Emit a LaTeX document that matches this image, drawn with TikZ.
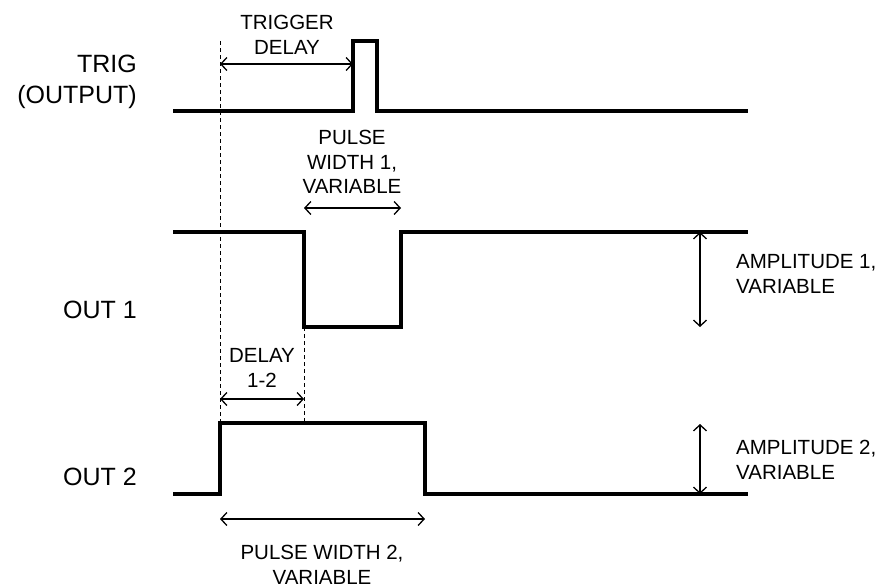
\documentclass[tikz,border=0pt]{standalone}
\usepackage{fontspec}
\setmainfont{Liberation Sans}
\usetikzlibrary{arrows.meta}
\begin{document}
\begin{tikzpicture}[x=1pt,y=-1pt,
  sig/.style={line width=3.3pt,line join=miter},
  dim/.style={line width=1.3pt,{Straight Barb[length=6pt,width=13pt,line width=1.3pt]}-{Straight Barb[length=6pt,width=13pt,line width=1.3pt]}},
  guide/.style={line width=0.9pt,dash pattern=on 4pt off 3pt},
  small/.style={inner sep=0pt,align=center,font=\fontsize{20.5}{24.8}\selectfont},
  big/.style={inner sep=0pt,align=right,font=\fontsize{25}{31}\selectfont}]
\useasboundingbox (0,0) rectangle (883,587);
% coordinates
\coordinate (t0) at (173,111); \coordinate (t1) at (353,111); \coordinate (t2) at (353,41);
\coordinate (t3) at (377,41); \coordinate (t4) at (377,111); \coordinate (t5) at (748,111);
\coordinate (a0) at (173,232); \coordinate (a1) at (304,232); \coordinate (a2) at (304,327);
\coordinate (a3) at (401,327); \coordinate (a4) at (401,232); \coordinate (a5) at (748,232);
\coordinate (b0) at (173,494); \coordinate (b1) at (220,494); \coordinate (b2) at (220,423);
\coordinate (b3) at (425,423); \coordinate (b4) at (425,494); \coordinate (b5) at (748,494);
% guides
\coordinate (g0) at (220,41);
\draw[guide] (g0) -- (b2);
\coordinate (g1) at (304,423);
\draw[guide] (a2) -- (g1);
% signals
\draw[sig] (t0) -- (t1) -- (t2) -- (t3) -- (t4) -- (t5);
\draw[sig] (a0) -- (a1) -- (a2) -- (a3) -- (a4) -- (a5);
\draw[sig] (b0) -- (b1) -- (b2) -- (b3) -- (b4) -- (b5);
% dimension arrows
\coordinate (d1a) at (220,64); \coordinate (d1b) at (353,64);
\draw[dim] (d1a) -- (d1b);
\coordinate (d2a) at (304,208); \coordinate (d2b) at (401,208);
\draw[dim] (d2a) -- (d2b);
\coordinate (d3a) at (220,399); \coordinate (d3b) at (304,399);
\draw[dim] (d3a) -- (d3b);
\coordinate (d4a) at (220,519); \coordinate (d4b) at (425,519);
\draw[dim] (d4a) -- (d4b);
\coordinate (d5a) at (700,232); \coordinate (d5b) at (700,327);
\draw[dim] (d5a) -- (d5b);
\coordinate (d6a) at (700,424); \coordinate (d6b) at (700,494);
\draw[dim] (d6a) -- (d6b);
% labels
\node[big,anchor=east] (ltrig) at (137,82) {TRIG\\(OUTPUT)};
\node[big,anchor=east] (lout1) at (137,310) {OUT 1};
\node[big,anchor=east] (lout2) at (137,477) {OUT 2};
\node[small] (ltd) at (287,34.5) {TRIGGER\\DELAY};
\node[small] (lpw1) at (352,162) {PULSE\\WIDTH 1,\\VARIABLE};
\node[small] (ld12) at (262,368) {DELAY\\1-2};
\node[small] (lpw2) at (322,565) {PULSE WIDTH 2,\\VARIABLE};
\node[small,align=left,anchor=west] (lam1) at (736,274) {AMPLITUDE 1,\\VARIABLE};
\node[small,align=left,anchor=west] (lam2) at (736,460) {AMPLITUDE 2,\\VARIABLE};
\end{tikzpicture}
\end{document}
